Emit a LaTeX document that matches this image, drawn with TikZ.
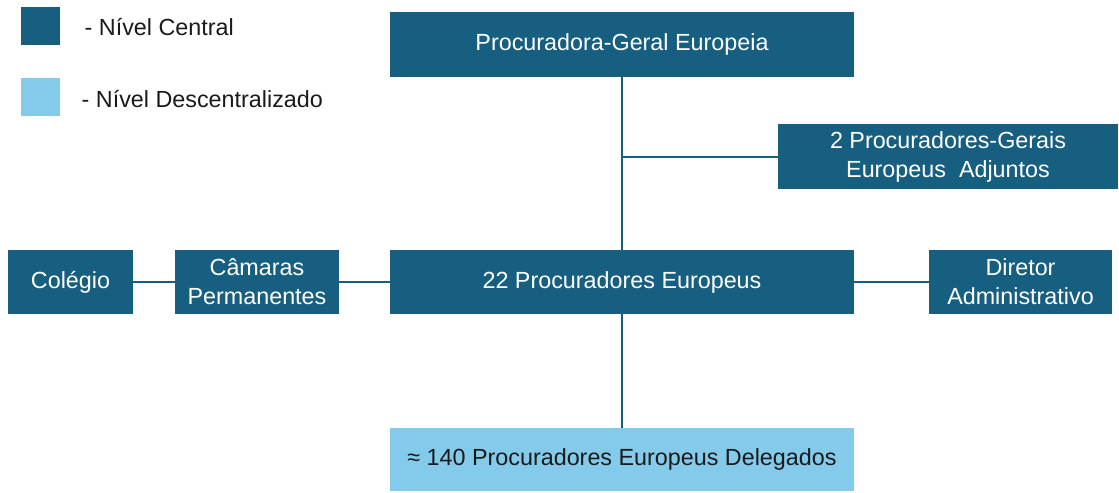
\documentclass[tikz,border=0pt]{standalone}
\usepackage{fontspec}
\setmainfont{Liberation Sans}
\definecolor{central}{HTML}{175F80}
\definecolor{descentral}{HTML}{84CBEB}
\definecolor{texto}{HTML}{1A1A1A}
\tikzset{
  box/.style={rectangle, inner sep=2pt, align=center, font=\fontsize{17.5}{21.75}\selectfont},
  cbox/.style={box, fill=central, text=white},
  dbox/.style={box, fill=descentral, text=texto},
  link/.style={draw=central, line width=1.5pt},
  legend/.style={anchor=west, text=texto, font=\fontsize{17.5}{21.75}\selectfont}
}
\begin{document}
\begin{tikzpicture}[x=0.75pt,y=-0.75pt]
\useasboundingbox (0,0) rectangle (1119,492);

% legenda
\node[cbox, minimum width=29.25pt, minimum height=28.5pt] (legc) at (40.5,26) {};
\node[dbox, minimum width=29.25pt, minimum height=28.5pt] (legd) at (40.5,97) {};
\node[legend] (legctext) at (80,27) {- Nível Central};
\node[legend] (legdtext) at (77,99) {- Nível Descentralizado};

% nivel central
\node[cbox, minimum width=348pt, minimum height=48.75pt] (pge) at (622,44.5) {Procuradora-Geral Europeia};
\node[cbox, minimum width=255pt, minimum height=48.75pt] (adj) at (948,156.5) {2 Procuradores-Gerais\\Europeus~ Adjuntos};
\node[cbox, minimum width=93.75pt, minimum height=48pt] (col) at (70.5,282) {Colégio};
\node[cbox, minimum width=123pt, minimum height=48pt] (cam) at (257,282) {Câmaras\\Permanentes};
\node[cbox, minimum width=348pt, minimum height=48pt] (pe) at (622,282) {22 Procuradores Europeus};
\node[cbox, minimum width=137.25pt, minimum height=48pt] (dir) at (1020.5,282) {Diretor\\Administrativo};

% nivel descentralizado
\node[dbox, minimum width=348pt, minimum height=47.25pt] (del) at (622,459.5) {≈ 140 Procuradores Europeus Delegados};

\coordinate (ramo) at (622,156.5);

\draw[link] (pge.south) -- (pe.north);
\draw[link] (ramo) -- (adj.west);
\draw[link] (col.east) -- (cam.west);
\draw[link] (cam.east) -- (pe.west);
\draw[link] (pe.east) -- (dir.west);
\draw[link] (pe.south) -- (del.north);

\end{tikzpicture}
\end{document}
